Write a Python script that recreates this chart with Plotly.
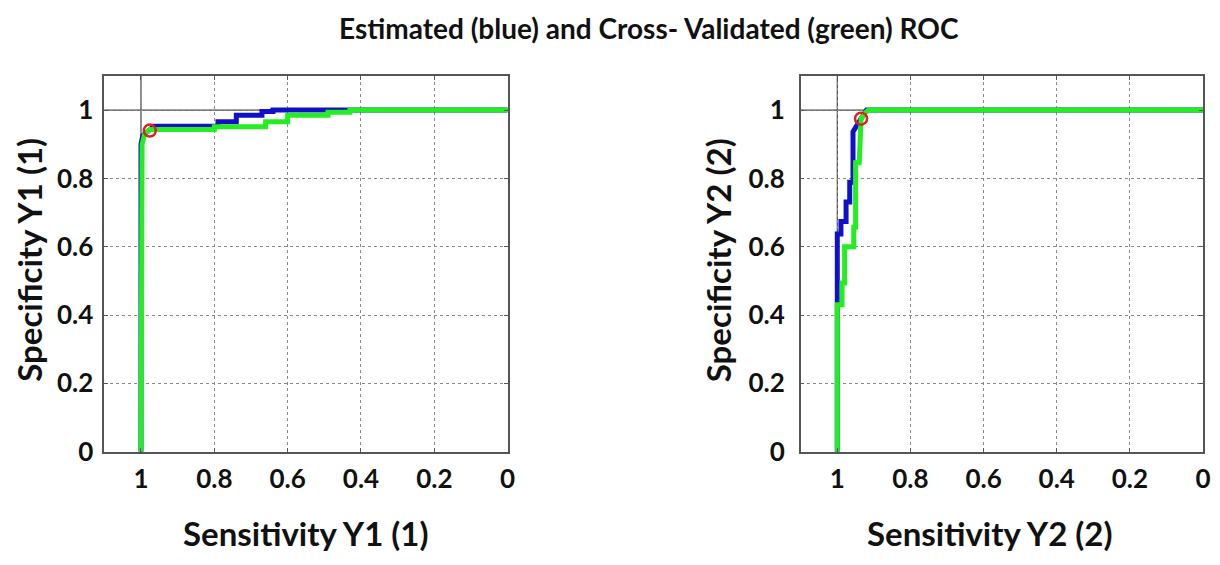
import plotly.graph_objects as go

# ---------------- data ----------------
# Left panel (Y1): estimated (blue) and cross-validated (green) ROC
y1_est_x = [1.0, 1.0, 0.995, 0.985, 0.976, 0.965, 0.93, 0.79, 0.79, 0.74, 0.74, 0.67, 0.67, 0.64, 0.64, 0.0]
y1_est_y = [0.0, 0.90, 0.925, 0.935, 0.94, 0.953, 0.953, 0.953, 0.966, 0.966, 0.985, 0.985, 0.996, 0.996, 1.0, 1.0]
y1_cv_x = [1.0, 1.0, 0.997, 0.99, 0.976, 0.80, 0.80, 0.66, 0.66, 0.60, 0.60, 0.49, 0.49, 0.43, 0.43, 0.0]
y1_cv_y = [0.0, 0.86, 0.90, 0.93, 0.943, 0.943, 0.951, 0.951, 0.966, 0.966, 0.985, 0.985, 0.994, 0.994, 1.0, 1.0]
y1_point = (0.976, 0.94)

# Right panel (Y2)
y2_est_x = [1.0, 1.0, 0.99, 0.99, 0.976, 0.976, 0.966, 0.966, 0.957, 0.957, 0.935, 0.925, 0.92, 0.0]
y2_est_y = [0.0, 0.637, 0.637, 0.674, 0.674, 0.731, 0.731, 0.789, 0.789, 0.937, 0.975, 0.995, 1.0, 1.0]
y2_cv_x = [1.0, 1.0, 0.987, 0.987, 0.98, 0.98, 0.955, 0.955, 0.95, 0.95, 0.94, 0.935, 0.925, 0.915, 0.0]
y2_cv_y = [0.0, 0.43, 0.43, 0.494, 0.494, 0.60, 0.60, 0.657, 0.657, 0.846, 0.846, 0.975, 0.99, 1.0, 1.0]
y2_point = (0.935, 0.975)

tick_vals = [0, 0.2, 0.4, 0.6, 0.8, 1]
tick_text = ["0", "0.2", "0.4", "0.6", "0.8", "1"]

title_text = "Estimated (blue) and Cross- Validated (green) ROC"
x_titles = ["Sensitivity Y1 (1)", "Sensitivity Y2 (2)"]
y_titles = ["Specificity Y1 (1)", "Specificity Y2 (2)"]

# ---------------- figure ----------------
BLUE = "#1010c8"
GREEN = "#22ee22"
FONT = "Lato"

fig = go.Figure()

panels = [
    (y1_est_x, y1_est_y, y1_cv_x, y1_cv_y, y1_point, "x", "y"),
    (y2_est_x, y2_est_y, y2_cv_x, y2_cv_y, y2_point, "x2", "y2"),
]
for ex, ey, cx, cy, pt, xa, ya in panels:
    fig.add_trace(go.Scatter(x=ex, y=ey, mode="lines", line=dict(color=BLUE, width=5),
                             xaxis=xa, yaxis=ya, showlegend=False))
    fig.add_trace(go.Scatter(x=cx, y=cy, mode="lines", line=dict(color=GREEN, width=5),
                             xaxis=xa, yaxis=ya, showlegend=False))
    fig.add_trace(go.Scatter(x=[pt[0]], y=[pt[1]], mode="markers",
                             marker=dict(symbol="circle-open", size=12, color="#e02020",
                                         line=dict(width=2.5, color="#e02020")),
                             xaxis=xa, yaxis=ya, showlegend=False))

axis_common = dict(
    tickvals=tick_vals, ticktext=tick_text,
    showgrid=True, gridcolor="#888888", griddash="dot", gridwidth=1,
    showline=True, linecolor="#555555", linewidth=1.5, mirror="ticks",
    ticks="inside", ticklen=4, tickcolor="#555555",
    zeroline=False,
    tickfont=dict(family=FONT, size=26, color="#111111", weight="bold"),
)

x_domains = [[105 / 1220, 511 / 1220], [806 / 1220, 1211 / 1220]]
y_domain = [1 - 464 / 565, 1 - 78 / 565]

fig.update_layout(
    xaxis=dict(domain=x_domains[0], range=[1.1, 0], anchor="y", ticklabelstandoff=3, **axis_common),
    yaxis=dict(domain=y_domain, range=[0, 1.1], anchor="x", ticklabelstandoff=4, **axis_common),
    xaxis2=dict(domain=x_domains[1], range=[1.1, 0], anchor="y2", ticklabelstandoff=3, **axis_common),
    yaxis2=dict(domain=y_domain, range=[0, 1.1], anchor="x2", ticklabelstandoff=9, **axis_common),
    width=1220, height=565,
    margin=dict(l=0, r=0, t=0, b=0),
    plot_bgcolor="white", paper_bgcolor="white",
)

# solid reference lines at 1
for xa, ya in [("x", "y"), ("x2", "y2")]:
    fig.add_shape(type="line", xref=xa, yref=ya + " domain", x0=1, x1=1, y0=0, y1=1,
                  line=dict(color="#444444", width=1.2), layer="below")
    fig.add_shape(type="line", xref=xa + " domain", yref=ya, x0=0, x1=1, y0=1, y1=1,
                  line=dict(color="#444444", width=1.2), layer="below")

# title
fig.add_annotation(text=title_text, x=653 / 1220, y=1 - 29 / 565, xref="paper", yref="paper",
                   showarrow=False, xanchor="center", yanchor="middle",
                   font=dict(family=FONT, size=28, color="#111111", weight="bold"))

# axis titles
x_title_pos = [308, 997]
y_title_pos = [29, 723]
for i in range(2):
    fig.add_annotation(text=x_titles[i], x=x_title_pos[i] / 1220, y=1 - 548 / 565,
                       xref="paper", yref="paper", showarrow=False,
                       xanchor="center", yanchor="middle",
                       font=dict(family=FONT, size=33, color="#111111", weight="bold"))
    fig.add_annotation(text=y_titles[i], x=y_title_pos[i] / 1220, y=1 - 267 / 565,
                       xref="paper", yref="paper", showarrow=False, textangle=-90,
                       xanchor="center", yanchor="middle",
                       font=dict(family=FONT, size=33, color="#111111", weight="bold"))

fig.write_html("out.html", config={"displayModeBar": False},
               post_script="document.body.style.margin='0px';")
